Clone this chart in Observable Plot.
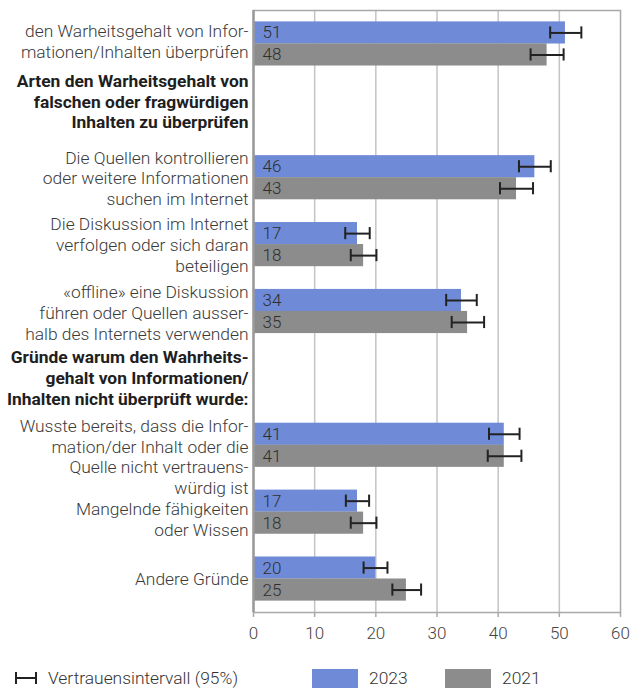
<!DOCTYPE html>
<html>
<head>
<meta charset="utf-8">
<script src="https://cdn.jsdelivr.net/npm/d3@7"></script>
<script src="https://cdn.jsdelivr.net/npm/@observablehq/plot@0.6"></script>
<style>
  html, body { margin: 0; padding: 0; background: #fff; }
  #wrap { position: relative; width: 631px; height: 688px; overflow: hidden; font-family: Roboto, "Noto Sans", sans-serif; }
  #chart { position: absolute; left: 0; top: 0; }
  .leg { position: absolute; font-size: 17.4px; font-weight: 300; color: #333; line-height: 17px; }
  .sw { position: absolute; width: 46px; height: 19px; }
</style>
</head>
<body>
<div id="wrap">
  <div id="chart"></div>
  <div class="leg" style="left:14px; top:670px;">
    <svg width="26" height="16" style="vertical-align:-2px; margin-right:8px;">
      <line x1="2" y1="2" x2="2" y2="14" stroke="#222" stroke-width="2"/>
      <line x1="2" y1="8" x2="22" y2="8" stroke="#222" stroke-width="2"/>
      <line x1="22" y1="2" x2="22" y2="14" stroke="#222" stroke-width="2"/>
    </svg>Vertrauensintervall (95%)
  </div>
  <div class="sw" style="left:312px; top:669px; background:#6f8bd7;"></div>
  <div class="leg" style="left:369px; top:670px;" id="l2023"></div>
  <div class="sw" style="left:445px; top:669px; background:#8c8c8c;"></div>
  <div class="leg" style="left:502px; top:670px;" id="l2021"></div>
</div>
<script>
// ---- data ----
const categories = [
  "den Warheitsgehalt von Infor-\nmationen/Inhalten überprüfen",
  "Arten den Warheitsgehalt von\nfalschen oder fragwürdigen\nInhalten zu überprüfen",
  "Die Quellen kontrollieren\noder weitere Informationen\nsuchen im Internet",
  "Die Diskussion im Internet\nverfolgen oder sich daran\nbeteiligen",
  "«offline» eine Diskussion\nführen oder Quellen ausser-\nhalb des Internets verwenden",
  "Gründe warum den Wahrheits-\ngehalt von Informationen/\nInhalten nicht überprüft wurde:",
  "Wusste bereits, dass die Infor-\nmation/der Inhalt oder die\nQuelle nicht vertrauens-\nwürdig ist",
  "Mangelnde fähigkeiten\noder Wissen",
  "Andere Gründe"
];
const isHeader = [false, true, false, false, false, true, false, false, false];
const values2023 = [51, null, 46, 17, 34, null, 41, 17, 20];
const values2021 = [48, null, 43, 18, 35, null, 41, 18, 25];
const ciLow2023  = [48.5, null, 43.4, 15.0, 31.5, null, 38.5, 15.1, 18.0];
const ciHigh2023 = [53.6, null, 48.6, 19.0, 36.5, null, 43.5, 18.9, 21.9];
const ciLow2021  = [45.3, null, 40.3, 15.9, 32.4, null, 38.3, 15.9, 22.7];
const ciHigh2021 = [50.7, null, 45.7, 20.1, 37.7, null, 43.8, 20.1, 27.4];
const xTicks = [0, 10, 20, 30, 40, 50, 60];
const seriesNames = ["2023", "2021"];

document.getElementById("l2023").textContent = seriesNames[0];
document.getElementById("l2021").textContent = seriesNames[1];

// ---- layout ----
const labelShift = [-3, -10, 0, 0, 1, -1, 11, 7, -1];
const C2023 = "#6f8bd7", C2021 = "#8c8c8c";

const rows = categories.map((c, i) => ({
  cat: c, header: isHeader[i],
  v23: values2023[i], v21: values2021[i],
  lo23: ciLow2023[i], hi23: ciHigh2023[i],
  lo21: ciLow2021[i], hi21: ciHigh2021[i]
}));
const bars = rows.filter(d => !d.header);

const labelMarks = rows.map((d, i) => Plot.text([d], {
  frameAnchor: "left", y: "cat", text: "cat",
  textAnchor: "end", dx: -5, dy: labelShift[i],
  lineHeight: 1.2,
  fontSize: 17.4,
  fontWeight: d.header ? 700 : 300,
  fill: d.header ? "#1e1e1e" : "#3a3a3a"
}));

const chart = Plot.plot({
  width: 631, height: 650,
  marginLeft: 253, marginRight: 11, marginTop: 10, marginBottom: 38,
  style: { fontFamily: "Roboto, 'Noto Sans', sans-serif", background: "#fff" },
  x: { domain: [0, 60], ticks: xTicks },
  y: { domain: categories, paddingInner: 0.34, paddingOuter: 0.17, round: false, axis: null },
  marks: [
    Plot.ruleX(xTicks.slice(1, -1), { stroke: "#c4c4c4", strokeWidth: 1.5 }),
    Plot.frame({ stroke: "#a9a9a9", strokeWidth: 1.5 }),
    Plot.barX(bars, { x: "v23", y: "cat", fill: C2023, insetBottom: 22 }),
    Plot.barX(bars, { x: "v21", y: "cat", fill: C2021, insetTop: 22 }),
    Plot.ruleX([0], { stroke: "#9a9a9a", strokeWidth: 2.5 }),
    Plot.text(bars, { x: 0, y: "cat", text: d => String(d.v23), dy: -11, dx: 9, textAnchor: "start", fontSize: 17, fontWeight: 300, fill: "#2e2e2e" }),
    Plot.text(bars, { x: 0, y: "cat", text: d => String(d.v21), dy: 11, dx: 9, textAnchor: "start", fontSize: 17, fontWeight: 300, fill: "#2e2e2e" }),
    Plot.ruleY(bars, { x1: "lo23", x2: "hi23", y: "cat", dy: -11, stroke: "#222", strokeWidth: 2 }),
    Plot.ruleY(bars, { x1: "lo21", x2: "hi21", y: "cat", dy: 11, stroke: "#222", strokeWidth: 2 }),
    Plot.tickX(bars, { x: "lo23", y: "cat", insetTop: 5, insetBottom: 27, stroke: "#222", strokeWidth: 2 }),
    Plot.tickX(bars, { x: "hi23", y: "cat", insetTop: 5, insetBottom: 27, stroke: "#222", strokeWidth: 2 }),
    Plot.tickX(bars, { x: "lo21", y: "cat", insetTop: 27, insetBottom: 5, stroke: "#222", strokeWidth: 2 }),
    Plot.tickX(bars, { x: "hi21", y: "cat", insetTop: 27, insetBottom: 5, stroke: "#222", strokeWidth: 2 }),
    Plot.axisX({ ticks: xTicks, tickSize: 5, tickPadding: 9, stroke: "#a9a9a9", strokeWidth: 1.5, fontSize: 17, fontWeight: 300, color: "#444", label: null }),
    ...labelMarks
  ]
});
document.getElementById("chart").appendChild(chart);
</script>
</body>
</html>
